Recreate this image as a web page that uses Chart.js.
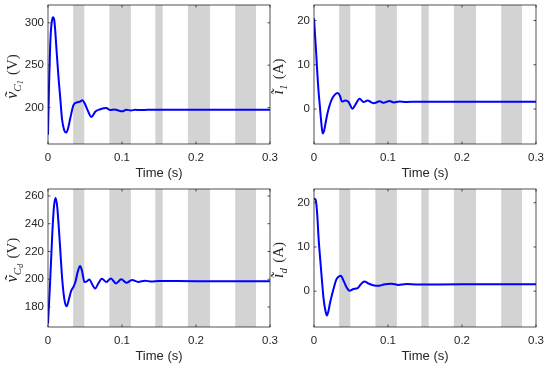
<!DOCTYPE html>
<html>
<head>
<meta charset="utf-8">
<script src="https://cdn.jsdelivr.net/npm/chart.js@4.4.1/dist/chart.umd.min.js"></script>
<style>
  body { margin: 0; background: #fff; }
  #wrap { position: relative; width: 550px; height: 370px; }
  #wrap canvas { position: absolute; left: 0; top: 0; }
</style>
</head>
<body>
<div id="wrap">
  <canvas id="c1" width="550" height="370"></canvas>
  <canvas id="c2" width="550" height="370"></canvas>
  <canvas id="c3" width="550" height="370"></canvas>
  <canvas id="c4" width="550" height="370"></canvas>
</div>
<script>
// shaded intervals (s)
const bandStart = [0.034, 0.083, 0.145, 0.189, 0.253];
const bandEnd   = [0.049, 0.112, 0.155, 0.219, 0.281];

const xTicks = [0, 0.1, 0.2, 0.3];

// v_C1 (V)
const tC1 = [0, 0.0015, 0.003, 0.0045, 0.006, 0.0068, 0.0085, 0.012, 0.0145, 0.0165, 0.019, 0.022, 0.0245, 0.027, 0.030, 0.0344, 0.039, 0.043, 0.0465, 0.0495, 0.0525, 0.0555, 0.0583, 0.061, 0.0638, 0.0706, 0.0787, 0.0841, 0.090, 0.095, 0.100, 0.106, 0.112, 0.118, 0.125, 0.135, 0.15, 0.2, 0.25, 0.3];
const vC1 = [168, 230, 275, 297, 305, 306.5, 303, 262, 232, 212, 186, 173, 170.5, 175, 187, 202.8, 206, 207, 208.5, 205, 199, 193, 189, 191, 195, 198, 199.6, 197, 197.8, 196.5, 195.5, 197.5, 196.5, 197.5, 197, 197.3, 197.3, 197.3, 197.3, 197.3];
const yTicksC1 = [200, 250, 300];

// i_1 (A)
const t1 = [0, 0.0015, 0.003, 0.0045, 0.006, 0.008, 0.010, 0.0117, 0.0135, 0.0155, 0.0175, 0.021, 0.0243, 0.028, 0.0319, 0.035, 0.0378, 0.0422, 0.0467, 0.052, 0.056, 0.0616, 0.067, 0.0722, 0.0805, 0.089, 0.094, 0.102, 0.108, 0.115, 0.125, 0.14, 0.2, 0.3];
const i1 = [20.5, 16.5, 12.5, 8, 4.3, 0.5, -3.3, -5.5, -5.0, -3.3, -1.5, 0.8, 2.3, 3.2, 3.6, 3.0, 1.7, 1.9, 1.6, 0.05, 1.0, 2.3, 1.6, 1.9, 1.3, 1.75, 1.4, 1.8, 1.5, 1.7, 1.6, 1.65, 1.65, 1.65];
const yTicksI1 = [0, 10, 20];

// v_Cd (V)
const tCd = [0, 0.0027, 0.0059, 0.008, 0.0102, 0.0125, 0.0145, 0.0165, 0.0185, 0.021, 0.023, 0.0253, 0.028, 0.0312, 0.0345, 0.037, 0.040, 0.0434, 0.046, 0.0493, 0.0525, 0.056, 0.060, 0.0638, 0.068, 0.0728, 0.079, 0.085, 0.0918, 0.099, 0.106, 0.1135, 0.122, 0.131, 0.14, 0.15, 0.2, 0.3];
const vCd = [168, 196, 234, 252, 258.5, 252, 238, 222, 205, 190, 183, 180.5, 185, 191.5, 194.6, 198, 205, 209.5, 206, 198, 198.5, 199.9, 196, 193.4, 197, 200.4, 198, 200.6, 197, 200, 197.4, 199.5, 198, 199, 198.3, 198.7, 198.6, 198.6];
const yTicksCd = [180, 200, 220, 240, 260];

// i_d (A)
const td = [0, 0.0015, 0.0027, 0.0045, 0.0062, 0.0085, 0.0108, 0.013, 0.0155, 0.0175, 0.0195, 0.0215, 0.0243, 0.0272, 0.0301, 0.0335, 0.0364, 0.039, 0.0422, 0.045, 0.048, 0.0534, 0.059, 0.063, 0.068, 0.074, 0.085, 0.0895, 0.094, 0.105, 0.114, 0.125, 0.14, 0.2, 0.3];
const id = [20.9, 20.8, 20.3, 17, 12, 7, 2.3, -1.8, -4.5, -5.5, -4.5, -2.8, -0.8, 1.0, 2.6, 3.3, 3.5, 2.7, 1.5, 0.6, 0.1, 0.5, 0.7, 1.5, 2.2, 1.7, 1.2, 1.26, 1.5, 1.7, 1.4, 1.6, 1.5, 1.55, 1.55];
const yTicksId = [0, 10, 20];

const INK = '#262626';
const SANS = '"Liberation Sans", Arial, sans-serif';
const SERIF = '"Liberation Serif", "Times New Roman", serif';

// plot box of each panel on the page: left, top, right, bottom
const panels = [
  { id: 'c1', t: tC1, v: vC1, yMin: 157, yMax: 321, yTicks: yTicksC1,
    box: [48, 5, 270, 144], label: [['ṽ', 0], ['C', 1], ['1', 2], [' (V)', 0]] },
  { id: 'c2', t: t1, v: i1, yMin: -7.9, yMax: 23.5, yTicks: yTicksI1,
    box: [314, 5, 536, 144], label: [['ĩ', 0], ['1', 1], [' (A)', 0]] },
  { id: 'c3', t: tCd, v: vCd, yMin: 165.6, yMax: 265, yTicks: yTicksCd,
    box: [48, 189, 270, 327], label: [['ṽ', 0], ['C', 1], ['d', 2], [' (V)', 0]] },
  { id: 'c4', t: td, v: id, yMin: -8.1, yMax: 23.1, yTicks: yTicksId,
    box: [314, 189, 536, 327], label: [['ĩ', 0], ['d', 1], [' (A)', 0]] }
];

const Y_AXIS_W = 44;
const X_AXIS_H = 41;

const axesPlugin = {
  id: 'matlabAxes',
  beforeDatasetsDraw(chart) {
    const { ctx, chartArea: a, scales: { x } } = chart;
    ctx.save();
    ctx.beginPath();
    ctx.rect(a.left, a.top, a.right - a.left, a.bottom - a.top);
    ctx.clip();
    ctx.fillStyle = '#d3d3d3';
    bandStart.forEach((s, k) => {
      const x0 = x.getPixelForValue(s);
      const x1 = x.getPixelForValue(bandEnd[k]);
      ctx.fillRect(x0, a.top, x1 - x0, a.bottom - a.top);
    });
    ctx.restore();
  },
  afterDraw(chart, args, opts) {
    const { ctx, chartArea: a, scales: { x, y } } = chart;
    ctx.save();
    ctx.strokeStyle = INK;
    ctx.lineWidth = 0.8;
    ctx.strokeRect(a.left, a.top, a.right - a.left, a.bottom - a.top);
    const tl = 2.5;
    ctx.beginPath();
    x.ticks.forEach(tk => {
      const px = x.getPixelForValue(tk.value);
      ctx.moveTo(px, a.bottom); ctx.lineTo(px, a.bottom - tl);
      ctx.moveTo(px, a.top); ctx.lineTo(px, a.top + tl);
    });
    y.ticks.forEach(tk => {
      const py = y.getPixelForValue(tk.value);
      ctx.moveTo(a.left, py); ctx.lineTo(a.left + tl, py);
      ctx.moveTo(a.right, py); ctx.lineTo(a.right - tl, py);
    });
    ctx.stroke();

    // y label: tilde symbol with subscripts, rotated
    const fonts = ['italic 16px ' + SERIF, 'italic 11px ' + SERIF, 'italic 8px ' + SERIF];
    const drops = [0, 3.5, 5.5];
    const runs = opts.label.map(([txt, lvl], k) => {
      const plain = k === opts.label.length - 1;
      const f = plain ? '15px ' + SERIF : fonts[lvl];
      ctx.font = f;
      return { txt, f, dy: drops[lvl], w: ctx.measureText(txt).width + (plain ? 1.5 : 0) };
    });
    const total = runs.reduce((s, r) => s + r.w, 0);
    ctx.translate(a.left - 31, (a.top + a.bottom) / 2 + 2);
    ctx.rotate(-Math.PI / 2);
    ctx.fillStyle = INK;
    ctx.textBaseline = 'alphabetic';
    let cx = -total / 2;
    runs.forEach((r, k) => {
      ctx.font = r.f;
      const shift = k === runs.length - 1 ? 1.5 : 0;
      ctx.fillText(r.txt, cx + shift, r.dy);
      cx += r.w;
    });
    ctx.restore();
  }
};

panels.forEach(p => {
  const [L, T, R, B] = p.box;
  new Chart(document.getElementById(p.id), {
    type: 'line',
    data: {
      datasets: [{
        data: p.t.map((tv, k) => ({ x: tv, y: p.v[k] })),
        borderColor: '#0000ff',
        borderWidth: 2,
        pointRadius: 0,
        cubicInterpolationMode: 'monotone',
        fill: false
      }]
    },
    options: {
      responsive: false,
      animation: false,
      events: [],
      layout: { padding: { left: L - Y_AXIS_W, top: T, right: 550 - R, bottom: 370 - B - X_AXIS_H } },
      plugins: {
        legend: { display: false },
        tooltip: { enabled: false },
        matlabAxes: { label: p.label }
      },
      scales: {
        x: {
          type: 'linear',
          min: 0, max: 0.3,
          afterBuildTicks: s => { s.ticks = xTicks.map(v => ({ value: v })); },
          afterFit: s => { s.height = X_AXIS_H; s.paddingLeft = 0; s.paddingRight = 0; },
          grid: { display: false, drawTicks: false },
          border: { display: false },
          ticks: { color: INK, font: { family: SANS, size: 11.5 }, padding: 7, autoSkip: false, maxRotation: 0,
                   callback: v => String(v) },
          title: { display: true, text: 'Time (s)', color: INK, font: { family: SANS, size: 13 },
                   padding: { top: 0, bottom: 4 } }
        },
        y: {
          min: p.yMin, max: p.yMax,
          afterBuildTicks: s => { s.ticks = p.yTicks.map(v => ({ value: v })); },
          afterFit: s => { s.width = Y_AXIS_W; s.paddingTop = 0; s.paddingBottom = 0; },
          grid: { display: false, drawTicks: false },
          border: { display: false },
          ticks: { color: INK, font: { family: SANS, size: 11.5 }, padding: 4, autoSkip: false }
        }
      }
    },
    plugins: [axesPlugin]
  });
});
</script>
</body>
</html>
